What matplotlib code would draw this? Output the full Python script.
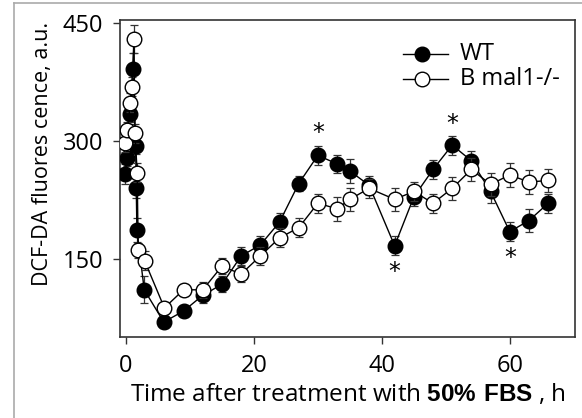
import matplotlib
matplotlib.use("Agg")
import matplotlib.pyplot as plt
from matplotlib.lines import Line2D

plt.rcParams['font.family'] = ['Open Sans', 'DejaVu Sans']
plt.rcParams['mathtext.fontset'] = 'custom'
plt.rcParams['mathtext.rm'] = 'Open Sans'
plt.rcParams['mathtext.bf'] = 'Liberation Sans:bold'

# --- data ---
wt_time = [-0.1, 0.15, 0.7, 1.1, 1.5, 1.6, 1.7, 2.85, 5.9, 9, 12, 15, 18, 21, 24, 27,
           30, 33, 35, 38, 42, 45, 48, 51, 54, 57, 60, 63, 66]
wt_val = [258, 278, 334, 392, 294, 241, 187, 111, 70, 84, 104, 118, 154, 168, 197, 246,
          282, 271, 262, 244, 167, 229, 264, 295, 275, 236, 185, 199, 221]
wt_err = [13, 10, 10, 20, 10, 13, 15, 17, 8, 8, 10, 10, 12, 12, 12, 10,
          12, 12, 15, 12, 12, 12, 12, 12, 12, 15, 12, 15, 12]

ko_time = [-0.1, 0.2, 0.7, 0.9, 1.25, 1.4, 1.75, 1.9, 2.9, 6, 9, 12, 15, 18, 21, 24,
           27, 30, 33, 35, 38, 42, 45, 48, 51, 54, 57, 60, 63, 66]
ko_val = [298, 314, 349, 369, 430, 310, 260, 161, 148, 88, 111, 111, 141, 131, 154, 177,
          190, 221, 214, 226, 240, 226, 236, 221, 240, 264, 245, 257, 248, 250]
ko_err = [12, 10, 12, 12, 18, 12, 12, 10, 12, 8, 8, 10, 10, 10, 12, 12,
          12, 12, 15, 15, 12, 15, 12, 12, 15, 15, 15, 15, 15, 15]

star_time = [30, 42, 51, 60]
star_val = [310, 133, 322, 151]

series_labels = ['WT', 'B mal1-/-']

fig = plt.figure(figsize=(5.82, 4.18), dpi=100)
ax = fig.add_axes([120 / 582, 1 - 337 / 418, 455 / 582, 317 / 418])

# outer light frame of the figure panel
fig.add_artist(Line2D([14 / 582, 14 / 582], [0, 1 - 3 / 418], color='#aaaaaa', lw=1.2))
fig.add_artist(Line2D([14 / 582, 1], [1 - 3 / 418, 1 - 3 / 418], color='#aaaaaa', lw=1.2))

ax.errorbar(wt_time, wt_val, yerr=wt_err, fmt='none', ecolor='#333333',
            elinewidth=0.9, capsize=3, capthick=0.9, zorder=2)
ax.plot(wt_time, wt_val, '-o', color='black', lw=1.0, ms=10.5,
        mfc='black', mec='black', zorder=3)
ax.errorbar(ko_time, ko_val, yerr=ko_err, fmt='none', ecolor='#333333',
            elinewidth=0.9, capsize=3, capthick=0.9, zorder=4)
ax.plot(ko_time, ko_val, '-o', color='black', lw=1.0, ms=10.5,
        mfc='white', mec='black', mew=1.0, zorder=5)

for t, v in zip(star_time, star_val):
    ax.text(t, v, '*', ha='center', va='center', fontsize=17, family='DejaVu Sans')

# legend drawn by hand (tight row spacing like the reference)
for yy, fc, lab in zip([0.893, 0.814], ['black', 'white'], series_labels):
    ax.plot([0.622, 0.721], [yy, yy], color='black', lw=1.0, transform=ax.transAxes,
            clip_on=False, zorder=6)
    ax.plot([0.664], [yy], 'o', ms=10.5, mfc=fc, mec='black', mew=1.0,
            transform=ax.transAxes, clip_on=False, zorder=7)
    ax.text(0.747, yy, lab, transform=ax.transAxes, ha='left', va='center', fontsize=17)

ax.set_xlim(-0.94, 70.2)
ax.set_ylim(51, 454)
ax.set_xticks([0, 20, 40, 60])
ax.set_yticks([150, 300, 450])
ax.tick_params(direction='out', length=5, width=1, color='#333333',
               labelsize=17, pad=7)
for s in ax.spines.values():
    s.set_color('#333333')
    s.set_linewidth(1.2)

ax.set_xlabel(r'Time after treatment with $\mathbf{50\%\ FBS}$ , h', fontsize=17.5)
ax.xaxis.set_label_coords(0.5, -0.143)
ax.set_ylabel('DCF-DA fluores cence, a.u.', fontsize=15.5)
ax.yaxis.set_label_coords(-0.148, 0.577)

fig.savefig('out.png', dpi=100)
